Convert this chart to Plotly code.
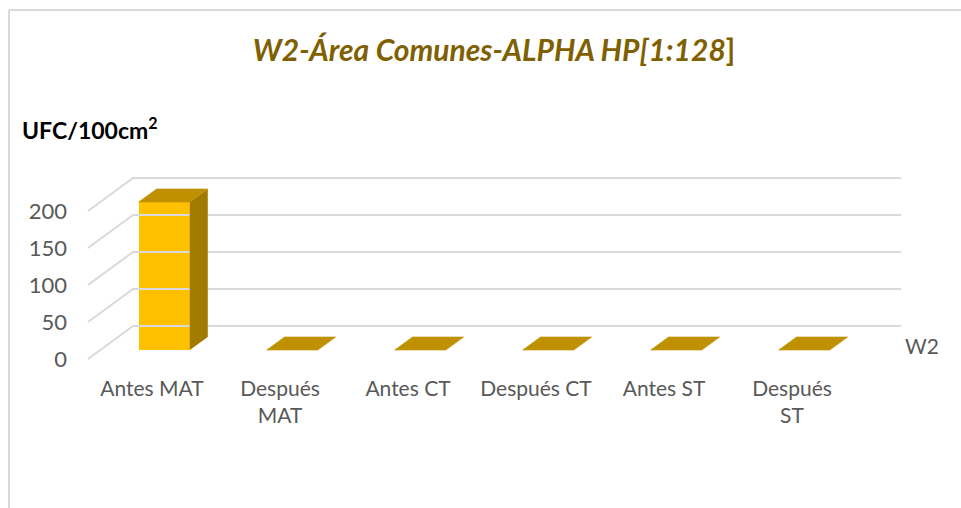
import plotly.graph_objects as go

# ---------------- data ----------------
categories = ["Antes MAT", "Después MAT", "Antes CT", "Después CT", "Antes ST", "Después ST"]
tick_labels = ["Antes MAT", "Después<br>MAT", "Antes CT", "Después CT", "Antes ST", "Después<br>ST"]
values_w2 = [200, 0, 0, 0, 0, 0]
series_name = "W2"
y_ticks = [0, 50, 100, 150, 200]
title_text = "<i><b>W2-Área Comunes-ALPHA HP[1:128</b></i><b>]</b>"
y_title = "<b>UFC/100cm<sup>2</sup></b>"

# ---------------- pseudo-3D projection settings ----------------
DX = 0.352   # depth shift along x (category units)
DY = 44.6    # depth shift along y (value units)
F0, F1 = 0.27, 0.67   # bar front / back depth fraction
BW = 0.40             # bar width (category units)

FRONT = "#FFC000"
TOP = "#BF9000"
SIDE = "#A37A00"
GRID = "#D9D9D9"
TXT = "#595959"

n = len(categories)
xs = list(range(n))

# plot-area geometry (pixels)
W, H = 961, 508
L, R, T, B = 80, 56, 170, 144
pw, ph = W - L - R, H - T - B
px_per_cat = 128.0
px_per_val = 0.74
x0 = -0.5 - 8 / px_per_cat
xr = [x0, x0 + pw / px_per_cat]
y0 = -5 / px_per_val
yr = [y0, y0 + ph / px_per_val]

fig = go.Figure()

# gridlines: back wall + left wall diagonals
gx, gy = [], []
for v in y_ticks:
    gx += [-0.5, -0.5 + DX, n - 0.5 + DX, None]
    gy += [v, v + DY, v + DY, None]
fig.add_trace(go.Scatter(x=gx, y=gy, mode="lines", line=dict(color=GRID, width=2),
                         hoverinfo="skip", showlegend=False))

# front faces
fig.add_trace(go.Bar(x=[i + DX * F0 for i in xs], y=values_w2, base=DY * F0, width=BW,
                     marker=dict(color=FRONT, line=dict(width=0)), name=series_name,
                     hoverinfo="skip", showlegend=False))

# side faces
sx, sy = [], []
for i, v in zip(xs, values_w2):
    xa, xb = i + BW / 2 + DX * F0, i + BW / 2 + DX * F1
    sx += [xa, xa, xb, xb, xa, None]
    sy += [DY * F0, v + DY * F0, v + DY * F1, DY * F1, DY * F0, None]
fig.add_trace(go.Scatter(x=sx, y=sy, mode="lines", fill="toself", fillcolor=SIDE,
                         line=dict(width=0, color=SIDE), hoverinfo="skip", showlegend=False))

# top faces
tx, ty = [], []
for i, v in zip(xs, values_w2):
    xl0, xr0 = i - BW / 2 + DX * F0, i + BW / 2 + DX * F0
    xl1, xr1 = i - BW / 2 + DX * F1, i + BW / 2 + DX * F1
    tx += [xl0, xr0, xr1, xl1, xl0, None]
    ty += [v + DY * F0, v + DY * F0, v + DY * F1, v + DY * F1, v + DY * F0, None]
fig.add_trace(go.Scatter(x=tx, y=ty, mode="lines", fill="toself", fillcolor=TOP,
                         line=dict(width=0.5, color=TOP), hoverinfo="skip", showlegend=False))

FONT = "Lato"

fig.update_layout(
    width=W, height=H,
    margin=dict(l=L, r=R, t=T, b=B, autoexpand=False),
    paper_bgcolor="white", plot_bgcolor="rgba(0,0,0,0)",
    font=dict(family=FONT, color=TXT, size=21),
    title=dict(text=title_text, x=494 / W, xref="container", xanchor="center",
               y=1 - 50 / H, yref="container", yanchor="middle",
               font=dict(family=FONT, size=30, color="#7F6000")),
    xaxis=dict(range=xr, tickmode="array", tickvals=xs, ticktext=tick_labels,
               showgrid=False, zeroline=False, showline=False, ticks="",
               ticklabelstandoff=10, automargin=False, fixedrange=True,
               tickfont=dict(family=FONT, size=21, color=TXT)),
    yaxis=dict(range=yr, tickmode="array", tickvals=y_ticks,
               showgrid=False, zeroline=False, showline=False, ticks="",
               ticklabelstandoff=12, automargin=False, fixedrange=True,
               tickfont=dict(family=FONT, size=22, color=TXT)),
    bargap=0, barmode="overlay",
    showlegend=False,
)

def px_to_paper_x(px):
    return (px - L) / pw

def px_to_paper_y(py):
    return (H - B - py) / ph

fig.add_annotation(text=y_title, x=px_to_paper_x(20), y=px_to_paper_y(128), xref="paper", yref="paper",
                   xanchor="left", yanchor="middle", showarrow=False,
                   font=dict(family=FONT, size=23, color="#000000"))
fig.add_annotation(text=series_name, x=px_to_paper_x(903), y=px_to_paper_y(345), xref="paper", yref="paper",
                   xanchor="left", yanchor="middle", showarrow=False,
                   font=dict(family=FONT, size=21, color=TXT))

# chart frame (top and left borders visible in the crop)
fig.add_shape(type="line", xref="paper", yref="paper",
              x0=px_to_paper_x(9), x1=px_to_paper_x(W + 5), y0=px_to_paper_y(10), y1=px_to_paper_y(10),
              line=dict(color=GRID, width=2))
fig.add_shape(type="line", xref="paper", yref="paper",
              x0=px_to_paper_x(9), x1=px_to_paper_x(9), y0=px_to_paper_y(10), y1=px_to_paper_y(H + 5),
              line=dict(color=GRID, width=2))

fig.write_html("out.html", config={"displayModeBar": False, "staticPlot": True},
               post_script="document.body.style.margin='0';document.body.style.overflow='hidden';")
